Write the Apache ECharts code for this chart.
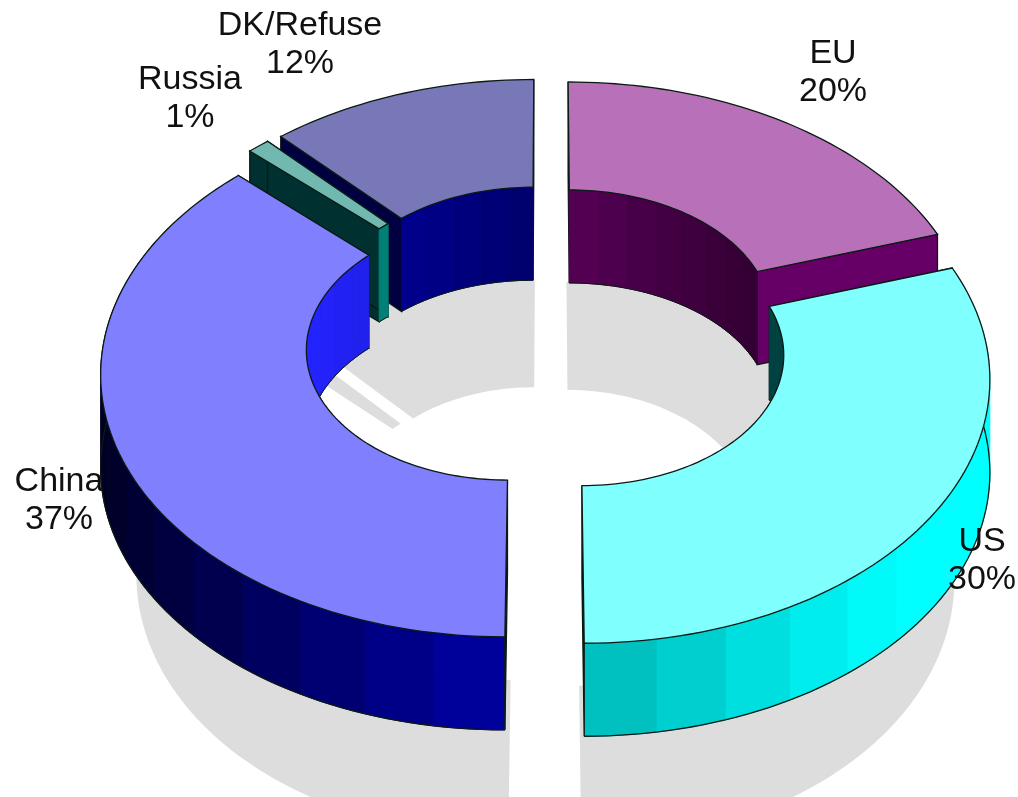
<!DOCTYPE html>
<html>
<head>
<meta charset="utf-8">
<style>html,body{margin:0;padding:0;background:#fff}#c{width:1018px;height:797px;filter:blur(0.5px)}</style>
<script src="https://cdn.jsdelivr.net/npm/echarts@6/dist/echarts.min.js"></script>
</head>
<body>
<div id="c"></div>
<script>
const categories = ['EU', 'US', 'China', 'Russia', 'DK/Refuse'];
const shares = [20, 30, 37, 1, 12];
const topColors = ['#B870B8', '#80FFFF', '#8080FF', '#70B8B0', '#7878B8'];
const cutColors = ['#660066', '#004040', '#001008', '#003030', '#000040'];
const outerBase = [[160, 0, 160], [0, 255, 255], [0, 0, 230], [0, 128, 128], [0, 0, 200]];
const innerBase = [[122, 0, 122], [0, 160, 160], [35, 35, 255], [0, 140, 130], [0, 0, 155]];
const labelSpots = [[833, 73], [982, 561], [59, 501], [190, 99], [300, 45]];
const drawOrder = [4, 3, 0, 2, 1];

const cx = 547, cy = 331, A = 404, B = 259, K = 0.115, HOLE = 0.5, EXPLODE = 0.1, DEPTH = 93;
const EDGE = '#0b1a14';
const total = shares.reduce((a, b) => a + b, 0);
const rad = d => d * Math.PI / 180;
const spans = [];
shares.reduce((acc, s) => { spans.push([acc / total * 360, (acc + s) / total * 360]); return acc + s; }, 0);

function slicePoint(i, deg, r, drop) {
  const mid = rad((spans[i][0] + spans[i][1]) / 2), t = rad(deg);
  const u = EXPLODE * Math.sin(mid) + r * Math.sin(t);
  const v = EXPLODE * Math.cos(mid) + r * Math.cos(t);
  const p = 1 / (1 + K * v);
  return [cx + A * u * p, cy - B * v * p + (drop || 0)];
}
function arc(i, a, b, r, drop, step) {
  const n = Math.max(1, Math.ceil(Math.abs(b - a) / (step || 1.5))), pts = [];
  for (let j = 0; j <= n; j++) pts.push(slicePoint(i, a + (b - a) * j / n, r, drop));
  return pts;
}
function shade(base, n) {
  const f = n >= 0 ? 0.72 + 0.4 * n : 0.72 + 0.58 * n;
  return 'rgb(' + base.map(c => Math.min(255, Math.round(c * f))).join(',') + ')';
}
function shadeInner(base, n) {
  const f = 0.7 + 0.3 * n;
  return 'rgb(' + base.map(c => Math.min(255, Math.round(c * f))).join(',') + ')';
}
function poly(points, fill, stroke, lw) {
  return { type: 'polygon', shape: { points }, style: { fill, stroke: stroke || fill, lineWidth: lw === undefined ? 1 : lw } };
}
function facets(i, r, visible, colorOf, out) {
  const [a, b] = spans[i];
  const step = 9;
  for (let d = a; d < b - 0.01; d += step) {
    const e = Math.min(b, d + step), m = (d + e) / 2;
    if (!visible(m)) continue;
    const topEdge = arc(i, d, e, r, 0), lowEdge = arc(i, e, d, r, DEPTH);
    out.push(poly(topEdge.concat(lowEdge), colorOf(m)));
  }
}
function renderSlice(params) {
  const i = drawOrder[params.dataIndex];
  const [a, b] = spans[i];
  const kids = [];
  // outer wall
  facets(i, 1, m => Math.cos(rad(m)) < 0.4, m => shade(outerBase[i], Math.sin(rad(m))), kids);
  let lowPts = [];
  for (let d = a; d <= b; d += 1.5) if (Math.cos(rad(d)) < 0.4) lowPts.push(slicePoint(i, d, 1, DEPTH));
  if (lowPts.length > 1) kids.push({ type: 'polyline', shape: { points: lowPts }, style: { fill: null, stroke: EDGE, lineWidth: 1.3 } });
  // cut faces
  [a, b].forEach(d => {
    kids.push(poly([slicePoint(i, d, 1), slicePoint(i, d, HOLE), slicePoint(i, d, HOLE, DEPTH), slicePoint(i, d, 1, DEPTH)], cutColors[i], EDGE, 1.3));
  });
  // inner wall
  facets(i, HOLE, m => Math.cos(rad(m)) > -0.4, m => shadeInner(innerBase[i], -Math.sin(rad(m))), kids);
  kids.push({ type: 'polyline', shape: { points: arc(i, a, b, HOLE, DEPTH) }, style: { fill: null, stroke: EDGE, lineWidth: 1 } });
  // top face
  kids.push(poly(arc(i, a, b, 1, 0).concat(arc(i, b, a, HOLE, 0)), topColors[i], EDGE, 1.3));
  return { type: 'group', children: kids };
}
function renderShadow(params) {
  const i = params.dataIndex, [a, b] = spans[i];
  const pts = arc(i, a, b, 1, 0).concat(arc(i, b, a, HOLE, 0)).map(p => [cx + (p[0] - cx) * 0.92, p[1] + 200]);
  return poly(pts, '#DDDDDD', '#DDDDDD', 0);
}
function renderLabel(params) {
  const i = params.dataIndex;
  return {
    type: 'text',
    style: {
      text: categories[i] + '\n' + shares[i] + '%',
      x: labelSpots[i][0], y: labelSpots[i][1],
      align: 'center', verticalAlign: 'middle',
      font: '34px "Liberation Sans", Arial, sans-serif',
      lineHeight: 38, fill: '#111'
    }
  };
}
const chart = echarts.init(document.getElementById('c'), null, { renderer: 'canvas' });
const base = { type: 'custom', coordinateSystem: 'none', silent: true, animation: false };
chart.setOption({
  animation: false,
  backgroundColor: '#fff',
  series: [
    Object.assign({}, base, { name: 'shadow', z: 1, data: shares.map(s => [s]), renderItem: renderShadow }),
    Object.assign({}, base, { name: 'share', z: 2, data: drawOrder.map(i => [shares[i]]), renderItem: renderSlice }),
    Object.assign({}, base, { name: 'labels', z: 3, data: shares.map(s => [s]), renderItem: renderLabel })
  ]
});
</script>
</body>
</html>
